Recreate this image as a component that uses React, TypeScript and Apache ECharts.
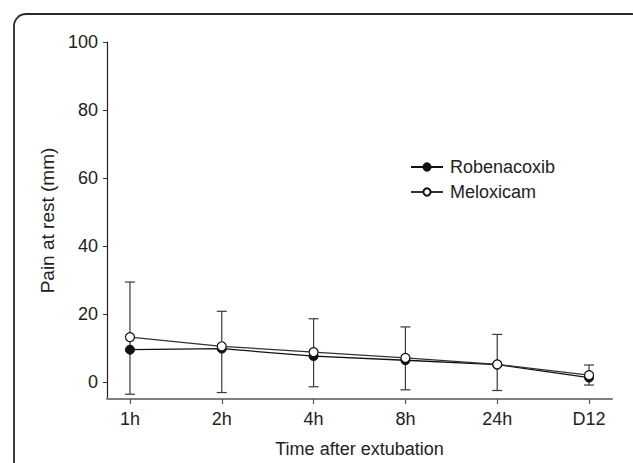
import React, { useEffect, useRef } from "react";
import * as echarts from "echarts";

const categories = ["1h", "2h", "4h", "8h", "24h", "D12"];
const robenacoxib = [9.5, 9.8, 7.6, 6.4, 5.1, 1.3];
const meloxicam = [13.2, 10.5, 8.8, 7.1, 5.2, 2.0];
const errUpper = [29.4, 20.8, 18.6, 16.2, 14.0, 5.0];
const errLower = [-3.6, -3.1, -1.4, -2.3, -2.5, -0.9];
const yTicks = [0, 20, 40, 60, 80, 100];

const FONT = "Liberation Sans, Arial, Helvetica, sans-serif";

export default function App() {
  const ref = useRef<HTMLDivElement>(null);
  useEffect(() => {
    if (!ref.current) return;
    const chart = echarts.init(ref.current, null, { renderer: "svg" });
    const xIdx = categories.map((_, i) => i);
    const option: any = {
      animation: false,
      backgroundColor: "#ffffff",
      textStyle: { fontFamily: FONT },
      grid: { left: 107, top: 42, right: 21, bottom: 59, containLabel: false },
      legend: {
        orient: "vertical",
        left: 405,
        top: 153,
        itemWidth: 32,
        itemHeight: 9,
        itemGap: 7,
        data: ["Robenacoxib", "Meloxicam"],
        textStyle: { fontSize: 18, color: "#222", fontFamily: FONT, padding: [0, 0, 0, 2] },
      },
      xAxis: {
        type: "value",
        min: -0.25,
        max: 5.25,
        splitLine: { show: false },
        axisLine: { show: true, onZero: false, lineStyle: { color: "#808080", width: 2 } },
        axisTick: { show: true, length: 5, customValues: xIdx, lineStyle: { color: "#555", width: 1.2 } },
        axisLabel: {
          customValues: xIdx,
          formatter: (v: number) => categories[Math.round(v)] ?? "",
          fontSize: 18,
          color: "#222",
          margin: 11,
          fontFamily: FONT,
        },
        name: "Time after extubation",
        nameLocation: "middle",
        nameGap: 41,
        nameTextStyle: { fontSize: 18, color: "#222", fontFamily: FONT },
      },
      yAxis: {
        type: "value",
        min: -5,
        max: 100,
        splitLine: { show: false },
        axisLine: { show: true, onZero: false, lineStyle: { color: "#222", width: 1.2 } },
        axisTick: { show: true, length: 4, customValues: yTicks, lineStyle: { color: "#333", width: 1 } },
        axisLabel: {
          customValues: yTicks,
          fontSize: 18,
          color: "#222",
          margin: 9,
          fontFamily: FONT,
        },
        name: "Pain at rest (mm)",
        nameLocation: "middle",
        nameGap: 48,
        nameTextStyle: { fontSize: 19, color: "#222", fontFamily: FONT },
      },
      graphic: [
        {
          type: "rect",
          shape: { x: 14, y: 14, width: 630, height: 480, r: 12 },
          style: { fill: "none", stroke: "#2a2a2a", lineWidth: 1.8 },
          silent: true,
          z: 100,
        },
      ],
      series: [
        {
          type: "custom",
          name: "err",
          data: xIdx.map((i) => [i, errLower[i], errUpper[i]]),
          z: 1,
          renderItem: (params: any, api: any) => {
            const x = api.value(0);
            const lo = api.coord([x, api.value(1)]);
            const hi = api.coord([x, api.value(2)]);
            const hw = 5;
            const st = { stroke: "#3a3a3a", lineWidth: 1.2 };
            return {
              type: "group",
              children: [
                { type: "line", shape: { x1: lo[0], y1: lo[1], x2: hi[0], y2: hi[1] }, style: st },
                { type: "line", shape: { x1: lo[0] - hw, y1: lo[1], x2: lo[0] + hw, y2: lo[1] }, style: st },
                { type: "line", shape: { x1: hi[0] - hw, y1: hi[1], x2: hi[0] + hw, y2: hi[1] }, style: st },
              ],
            };
          },
        },
        {
          type: "line",
          name: "Robenacoxib",
          data: xIdx.map((i) => [i, robenacoxib[i]]),
          symbol: "circle",
          symbolSize: 9,
          z: 3,
          lineStyle: { color: "#111", width: 1.3 },
          itemStyle: { color: "#111", borderColor: "#111", borderWidth: 1 },
        },
        {
          type: "line",
          name: "Meloxicam",
          data: xIdx.map((i) => [i, meloxicam[i]]),
          symbol: "circle",
          symbolSize: 9,
          z: 4,
          lineStyle: { color: "#333", width: 1.3 },
          itemStyle: { color: "#ffffff", borderColor: "#111", borderWidth: 1.2 },
        },
      ],
    };
    chart.setOption(option);
    return () => chart.dispose();
  }, []);
  return (
    <div
      ref={ref}
      style={{ position: "fixed", left: 0, top: 0, width: 633, height: 463 }}
    />
  );
}
